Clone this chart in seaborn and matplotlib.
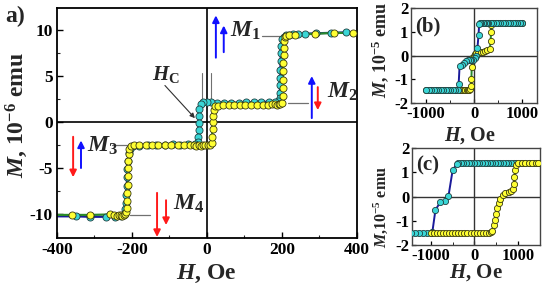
import numpy as np
import pandas as pd
import matplotlib
matplotlib.use('Agg')
import matplotlib.pyplot as plt
import seaborn as sns

# ---------------- data: panel a (main loop) ----------------
# ascending branch (yellow markers, green line)
a_up_H = [-400, -360, -312, -259, -248, -241, -235, -230, -226, -222, -218, -215, -213, -212, -212, -211, -211,
          -210, -210, -209, -207, -203, -195, -180, -163, -147, -130, -113, -96, -78, -60, -45, -35, -28, -22,
          -16, -10, -4, 3, 9, 13, 14, 15, 15, 16, 18, 22, 30, 44, 58, 73, 88, 103, 118, 134, 150, 163, 174,
          181, 187, 192, 196, 200, 202, 203, 203, 204, 204, 205, 205, 206, 208, 212, 218, 235, 288, 339, 390, 400]
a_up_M = [-10.1, -10.1, -10.1, -10.05, -10.1, -10.2, -10.15, -10.1, -10.2, -10.1, -10.0, -9.8, -9.4, -8.6, -7.7,
          -6.8, -5.9, -5.0, -4.2, -3.5, -2.9, -2.55, -2.45, -2.5, -2.5, -2.5, -2.5, -2.5, -2.5, -2.5, -2.5, -2.45,
          -2.5, -2.55, -2.5, -2.55, -2.5, -2.5, -2.45, -2.45, -2.3, -1.6, -0.8, 0.0, 0.7, 1.3, 1.7, 1.8, 1.85,
          1.85, 1.85, 1.85, 1.9, 1.9, 1.9, 1.9, 1.9, 1.95, 1.95, 1.9, 2.0, 2.0, 2.1, 2.8, 3.7, 4.6, 5.5, 6.4,
          7.3, 8.1, 8.8, 9.2, 9.4, 9.45, 9.5, 9.6, 9.7, 9.7, 9.7]
# descending branch (cyan markers, blue line)
a_dn_H = [400, 372, 330, 290, 262, 243, 230, 220, 212, 205, 200, 198, 197, 197, 196, 196, 195, 195, 194, 190,
          182, 165, 145, 125, 105, 85, 65, 45, 27, 12, 0, -10, -17, -20, -21, -22, -22, -23, -25, -32, -50, -72,
          -90, -112, -135, -158, -180, -198, -206, -209, -211, -212, -213, -214, -215, -216, -218, -222, -230,
          -245, -270, -312, -350, -400]
a_dn_M = [9.75, 9.75, 9.7, 9.65, 9.6, 9.55, 9.55, 9.5, 9.45, 9.3, 9.0, 8.3, 7.5, 6.6, 5.7, 4.8, 4.0, 3.2, 2.6,
          2.3, 2.2, 2.2, 2.2, 2.15, 2.15, 2.1, 2.1, 2.1, 2.1, 2.15, 2.2, 2.2, 2.0, 1.4, 0.7, -0.1, -0.9, -1.6,
          -2.15, -2.35, -2.4, -2.45, -2.4, -2.45, -2.5, -2.5, -2.55, -2.6, -2.9, -3.4, -4.2, -5.1, -6.0, -7.0,
          -7.9, -8.8, -9.5, -10.0, -10.2, -10.3, -10.3, -10.3, -10.25, -10.25]

# ---------------- data: panel b ----------------
b_dn_H = [1000, 950, 900, 850, 800, 750, 700, 650, 600, 550, 500, 450, 400, 350, 300, 270, 240, 210, 180, 150,
          125, 107, 93, 70, 40, 10, -27, -60, -93, -130, -173, -215, -260, -300, -320, -340, -390, -440, -490,
          -540, -590, -640, -690, -740, -790, -840, -890, -940, -1000]
b_dn_M = [1.35, 1.35, 1.35, 1.35, 1.35, 1.35, 1.36, 1.36, 1.36, 1.36, 1.36, 1.37, 1.37, 1.37, 1.37, 1.37, 1.37,
          1.37, 1.36, 1.36, 1.35, 1.32, 0.86, 0.3, -0.01, -0.1, -0.17, -0.18, -0.18, -0.2, -0.24, -0.3, -0.38,
          -0.42, -1.2, -1.47, -1.47, -1.45, -1.45, -1.45, -1.45, -1.45, -1.45, -1.45, -1.45, -1.45, -1.45, -1.45,
          -1.45]
b_up_H = [-1000, -900, -800, -700, -600, -500, -400, -300, -270, -240, -210, -180, -150, -120, -95, -75, -62, -55,
          -48, -35, -10, 20, 47, 90, 140, 185, 227, 270, 327, 345, 355, 362, 380, 450, 550, 650, 750, 850, 950, 1000]
b_up_M = [-1.45, -1.45, -1.45, -1.45, -1.45, -1.45, -1.45, -1.45, -1.45, -1.46, -1.46, -1.46, -1.46, -1.45, -1.45,
          -1.42, -1.3, -0.98, -0.5, -0.1, 0.0, 0.06, 0.09, 0.12, 0.14, 0.16, 0.18, 0.22, 0.27, 0.6, 1.0, 1.3, 1.35,
          1.36, 1.36, 1.36, 1.35, 1.35, 1.35, 1.35]

# ---------------- data: panel c ----------------
c_dn_H = [1450, 1350, 1250, 1150, 1050, 950, 890, 830, 770, 710, 650, 590, 530, 470, 410, 350, 290, 230, 170,
          110, 50, -10, -70, -130, -190, -250, -310, -370, -393, -496, -593, -681, -778, -889, -960, -1000,
          -1090, -1180, -1270, -1360, -1450]
c_dn_M = [1.4, 1.4, 1.4, 1.4, 1.4, 1.4, 1.4, 1.4, 1.4, 1.4, 1.4, 1.4, 1.4, 1.4, 1.4, 1.4, 1.4, 1.4, 1.4, 1.4,
          1.4, 1.4, 1.4, 1.4, 1.4, 1.4, 1.4, 1.39, 1.36, 1.1, 0.01, -0.2, -0.23, -0.55, -1.47, -1.5, -1.5, -1.5,
          -1.5, -1.5, -1.5]
c_up_H = [-1000, -930, -860, -790, -720, -650, -580, -510, -440, -370, -300, -230, -160, -90, -20, 50, 120, 190,
          260, 330, 380, 407, 444, 467, 496, 519, 556, 593, 644, 704, 778, 837, 889, 900, 911, 926, 941, 1000,
          1080, 1160, 1240, 1320, 1400, 1450]
c_up_M = [-1.5, -1.5, -1.5, -1.5, -1.5, -1.5, -1.5, -1.5, -1.5, -1.5, -1.5, -1.5, -1.5, -1.5, -1.5, -1.5, -1.5,
          -1.5, -1.5, -1.5, -1.48, -1.4, -1.19, -0.98, -0.72, -0.48, -0.27, -0.1, 0.06, 0.16, 0.21, 0.23, 0.3,
          0.51, 0.79, 1.08, 1.29, 1.4, 1.4, 1.4, 1.4, 1.4, 1.4, 1.4]

main_xticks = [-400, -200, 0, 200, 400]
main_yticks = [-10, -5, 0, 5, 10]
inset_xticks = [-1000, 0, 1000]
inset_yticks = [-2, -1, 0, 1, 2]

# ---------------- style ----------------
sns.set_theme(style='ticks')
plt.rcParams.update({
    'font.family': ['Liberation Serif', 'DejaVu Serif'],
    'font.weight': 'bold',
    'mathtext.fontset': 'custom',
    'mathtext.rm': 'Liberation Serif:bold',
    'mathtext.it': 'Liberation Serif:italic:bold',
    'mathtext.bf': 'Liberation Serif:bold',
    'axes.unicode_minus': False,
    'xtick.direction': 'in',
    'ytick.direction': 'in',
})

YEL, YEL_E = '#ffff33', '#3a3a10'
CYA, CYA_E = '#3ad6d6', '#1f4040'
BLUE_L, GREEN_L = '#1a1a9a', '#2a8a2a'

fig = plt.figure(figsize=(5.43, 2.87), dpi=100)
axA = fig.add_axes([0.105, 0.171, 0.552, 0.801])
axB = fig.add_axes([0.757, 0.641, 0.232, 0.331])
axC = fig.add_axes([0.759, 0.146, 0.236, 0.338])


def draw_line(ax, H, M, color, lw=1.6):
    df = pd.DataFrame({'H': H, 'M': M})
    sns.lineplot(data=df, x='H', y='M', sort=False, estimator=None, color=color, lw=lw, ax=ax, zorder=2)


def draw_pts(ax, H, M, face, edge, sl=slice(None), z=3, s=26):
    df = pd.DataFrame({'H': H, 'M': M}).iloc[sl]
    sns.scatterplot(data=df, x='H', y='M', s=s, color=face, edgecolor=edge, linewidth=0.6, ax=ax, zorder=z)


# ---- panel a ----
draw_line(axA, a_dn_H, a_dn_M, BLUE_L)
draw_line(axA, a_up_H, a_up_M, GREEN_L)
draw_pts(axA, a_dn_H, a_dn_M, CYA, CYA_E, slice(1, -1), z=3)
draw_pts(axA, a_up_H, a_up_M, YEL, YEL_E, slice(1, -1), z=4)
axA.axhline(0, color='black', lw=1.2, zorder=1)
axA.axvline(0, color='black', lw=1.2, zorder=1)
axA.set_xlim(-400, 400)
axA.set_ylim(-12.6, 12.4)
axA.set_xticks(main_xticks)
axA.set_yticks(main_yticks)
axA.set_xticks([-300, -100, 100, 300], minor=True)
axA.set_yticks([-7.5, -2.5, 2.5, 7.5], minor=True)
axA.tick_params(which='major', length=4, width=1, labelsize=12.5, pad=3, colors='black')
axA.tick_params(which='minor', length=2.5, width=0.8)
for sp in axA.spines.values():
    sp.set_visible(True)
    sp.set_color('black')
    sp.set_linewidth(1.3)
axA.set_xlabel('')
axA.set_ylabel('')

# leader lines and decorations in panel a
lc = '#707070'
axA.plot([147, 203], [9.35, 9.35], color=lc, lw=0.9, zorder=1)
axA.plot([216, 269], [2.07, 2.07], color=lc, lw=0.9, zorder=1)
axA.plot([-253, -205], [-2.5, -2.5], color=lc, lw=0.9, zorder=1)
axA.plot([-205, -152], [-10.1, -10.1], color=lc, lw=0.9, zorder=1)
axA.plot([-13, -13], [2.1, 5.3], color=lc, lw=0.8, zorder=1)
axA.plot([11, 11], [2.1, 5.3], color=lc, lw=0.8, zorder=1)

lab_kw = dict(fontsize=17, va='baseline', ha='left')
axA.text(61, 9.24, r'$M_1$', **lab_kw)
axA.text(320, 2.6, r'$M_2$', **lab_kw)
axA.text(-320, -3.26, r'$M_3$', **lab_kw)
axA.text(-91, -9.57, r'$M_4$', **lab_kw)
axA.text(-147, 4.57, r'$H_\mathrm{C}$', fontsize=15, va='baseline', ha='left')
axA.annotate('', xy=(-27, 0.2), xytext=(-117, 4.2),
             arrowprops=dict(arrowstyle='-|>', color='#303030', lw=0.8, mutation_scale=7), zorder=5)

BL, RD = '#1010ff', '#ff1a1a'


def spin(ax, x, y0, y1, color):
    ax.annotate('', xy=(x, y1), xytext=(x, y0), annotation_clip=False,
                arrowprops=dict(arrowstyle='-|>', color=color, lw=1.4, mutation_scale=10,
                                shrinkA=0, shrinkB=0), zorder=6)


spin(axA, 24, 7.0, 11.6, BL)
spin(axA, 45, 7.6, 10.5, BL)
spin(axA, 280, 0.43, 5.0, BL)
spin(axA, 296, 3.8, 1.3, RD)
spin(axA, -357, -1.6, -6.0, RD)
spin(axA, -336, -5.0, -2.0, BL)
spin(axA, -133, -7.7, -12.5, RD)
spin(axA, -109, -8.5, -11.2, RD)

W, Hh = 543.0, 287.0
fig.text(5 / W, 1 - 22 / Hh, 'a)', fontsize=17, fontweight='bold', va='baseline', ha='left')
fig.text(206 / W, 1 - 279 / Hh, r'$H$, Oe', fontsize=17, ha='center', va='baseline')
fig.text(17 / W, 1 - 115 / Hh, r'$M$, 10$^{-6}$ emu', fontsize=17, rotation=90, ha='center', va='center')

# ---- panel b ----
draw_line(axB, b_up_H, b_up_M, GREEN_L, lw=1.4)
draw_line(axB, b_dn_H, b_dn_M, BLUE_L, lw=1.4)
draw_pts(axB, b_up_H, b_up_M, YEL, YEL_E, z=3, s=20)
draw_pts(axB, b_dn_H, b_dn_M, CYA, CYA_E, z=4, s=20)
axB.set_xlim(-1310, 1310)
axB.set_ylim(-2, 2)
axB.text(0.03, 0.75, '(b)', transform=axB.transAxes, fontsize=15, va='baseline', ha='left')

# ---- panel c ----
draw_line(axC, c_dn_H, c_dn_M, BLUE_L, lw=1.4)
draw_line(axC, c_up_H, c_up_M, GREEN_L, lw=1.4)
draw_pts(axC, c_dn_H, c_dn_M, CYA, CYA_E, z=3, s=20)
draw_pts(axC, c_up_H, c_up_M, YEL, YEL_E, z=4, s=20)
axC.set_xlim(-1420, 1500)
axC.set_ylim(-2, 2)
axC.text(0.03, 0.77, '(c)', transform=axC.transAxes, fontsize=15, va='baseline', ha='left')

for ax in (axB, axC):
    ax.axhline(0, color='#333333', lw=1.0, zorder=1)
    ax.axvline(0, color='#333333', lw=1.0, zorder=1)
    ax.set_xticks(inset_xticks)
    ax.set_yticks(inset_yticks)
    ax.set_xticks([-500, 500], minor=True)
    ax.tick_params(which='major', length=3, width=0.9, labelsize=12, pad=2, colors='black')
    ax.tick_params(which='minor', length=2, width=0.7)
    for sp in ax.spines.values():
        sp.set_visible(True)
        sp.set_color('#444444')
        sp.set_linewidth(1.0)
    ax.set_xlabel('')
    ax.set_ylabel('')

fig.text(470 / W, 1 - 141 / Hh, r'$H$, Oe', fontsize=14.5, ha='center', va='baseline')
fig.text(476 / W, 1 - 278 / Hh, r'$H$, Oe', fontsize=15, ha='center', va='baseline')
fig.text(380 / W, 1 - 50 / Hh, r'$M$, 10$^{-5}$ emu', fontsize=13, rotation=90, ha='center', va='center')
fig.text(381 / W, 1 - 207 / Hh, r'$M$,10$^{-5}$ emu', fontsize=11.5, rotation=90, ha='center', va='center')

fig.savefig('out.png', dpi=100)
